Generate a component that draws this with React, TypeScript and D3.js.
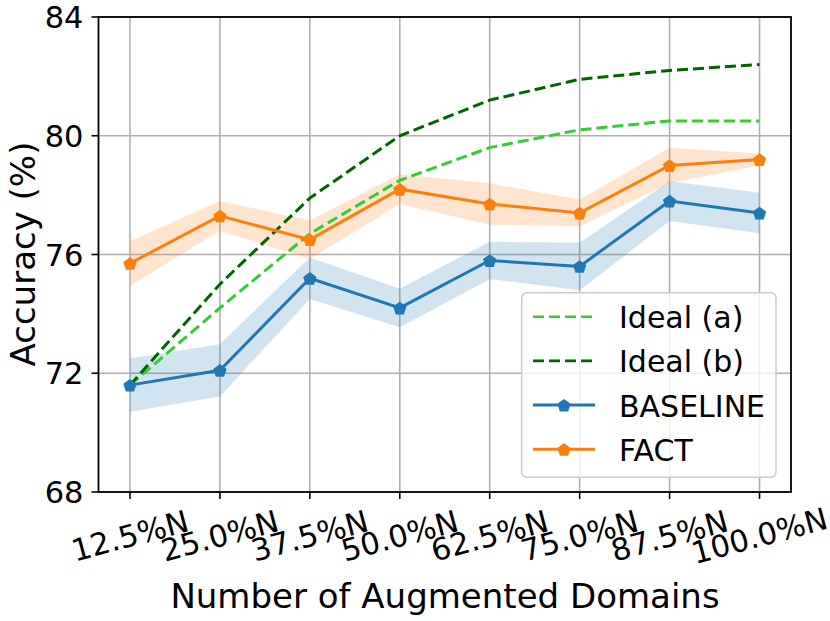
import React from 'react';
import * as d3 from 'd3';

const categories = ['12.5%N', '25.0%N', '37.5%N', '50.0%N', '62.5%N', '75.0%N', '87.5%N', '100.0%N'];
const idealA = [71.6, 74.2, 76.7, 78.5, 79.6, 80.2, 80.5, 80.5];
const idealB = [71.6, 75.0, 77.9, 80.0, 81.2, 81.9, 82.2, 82.4];
const baseline = [71.6, 72.1, 75.2, 74.2, 75.8, 75.6, 77.8, 77.4];
const baselineStd = [0.9, 0.88, 0.7, 0.65, 0.63, 0.8, 0.67, 0.68];
const fact = [75.7, 77.3, 76.5, 78.2, 77.7, 77.4, 79.0, 79.2];
const factStd = [0.75, 0.5, 0.65, 0.5, 0.7, 0.45, 0.6, 0.2];
const yTicks = [68, 72, 76, 80, 84];

const W = 830;
const H = 621;
const FONT = '"DejaVu Sans", sans-serif';

const BLUE = '#1f77b4';
const ORANGE = '#ff7f0e';
const LIME = '#32cd32';
const DARK = '#006400';

// pentagon marker, point up
const pentagon = (cx: number, cy: number, r: number) => {
  const pts = d3.range(5).map(k => {
    const a = (-90 + k * 72) * Math.PI / 180;
    return [cx + r * Math.cos(a), cy + r * Math.sin(a)];
  });
  return 'M' + pts.map(p => p.join(',')).join('L') + 'Z';
};

const App: React.FC = () => {
  const left = 98.5, right = 791, top = 17, bottom = 492;

  const x = d3.scalePoint<string>()
    .domain(categories)
    .range([left, right])
    .padding(0.35);

  const y = d3.scaleLinear().domain([68, 84]).range([bottom, top]);

  const line = d3.line<number>()
    .x((_, i) => x(categories[i]) as number)
    .y(d => y(d));

  const band = (vals: number[], std: number[]) =>
    d3.area<number>()
      .x((_, i) => x(categories[i]) as number)
      .y0((d, i) => y(d - std[i]))
      .y1((d, i) => y(d + std[i]))(vals) || '';

  const legendItems = [
    { label: 'Ideal (a)', color: LIME, dashed: true },
    { label: 'Ideal (b)', color: DARK, dashed: true },
    { label: 'BASELINE', color: BLUE, dashed: false },
    { label: 'FACT', color: ORANGE, dashed: false },
  ];

  return (
    <svg width={W} height={H} style={{ position: 'absolute', left: 0, top: 0, background: '#fff' }}
      fontFamily={FONT}>
      {/* grid */}
      <g stroke="#b0b0b0" strokeWidth={1.6}>
        {categories.map(c => (
          <line key={c} x1={x(c)} x2={x(c)} y1={top} y2={bottom} />
        ))}
        {yTicks.map(t => (
          <line key={t} x1={left} x2={right} y1={y(t)} y2={y(t)} />
        ))}
      </g>

      {/* std bands */}
      <path d={band(baseline, baselineStd)} fill={BLUE} fillOpacity={0.2} />
      <path d={band(fact, factStd)} fill={ORANGE} fillOpacity={0.2} />

      {/* ideal curves */}
      <path d={line(idealA) || ''} fill="none" stroke={LIME} strokeWidth={3} strokeDasharray="11 5" />
      <path d={line(idealB) || ''} fill="none" stroke={DARK} strokeWidth={3} strokeDasharray="11 5" />

      {/* measured curves */}
      {[{ vals: baseline, color: BLUE }, { vals: fact, color: ORANGE }].map(s => (
        <g key={s.color}>
          <path d={line(s.vals) || ''} fill="none" stroke={s.color} strokeWidth={3} />
          {s.vals.map((v, i) => (
            <path key={i} d={pentagon(x(categories[i]) as number, y(v) + 0.8, 7)} fill={s.color} />
          ))}
        </g>
      ))}

      {/* frame */}
      <rect x={left} y={top} width={right - left} height={bottom - top} fill="none" stroke="#000" strokeWidth={1.8} />

      {/* y axis */}
      {yTicks.map(t => (
        <g key={t}>
          <line x1={left - 7} x2={left} y1={y(t)} y2={y(t)} stroke="#000" strokeWidth={1.6} />
          <text x={left - 15} y={y(t) + 11} textAnchor="end" fontSize={30.5} fill="#000">{t}</text>
        </g>
      ))}

      {/* x axis */}
      {categories.map(c => (
        <g key={c}>
          <line x1={x(c)} x2={x(c)} y1={bottom} y2={bottom + 7} stroke="#000" strokeWidth={1.6} />
          <text transform={`translate(${x(c)},${536}) rotate(-15)`} textAnchor="middle"
            dominantBaseline="central" fontSize={30.5} fill="#000">{c}</text>
        </g>
      ))}

      <text x={445} y={608} textAnchor="middle" fontSize={34} fill="#000">Number of Augmented Domains</text>
      <text transform={`translate(23,${254}) rotate(-90)`} textAnchor="middle" dominantBaseline="central"
        fontSize={34} fill="#000">Accuracy (%)</text>

      {/* legend */}
      <g>
        <rect x={521.7} y={292.7} width={254.3} height={184.6} rx={5} fill="#fff" fillOpacity={0.8}
          stroke="#cccccc" strokeWidth={1.5} />
        {legendItems.map((it, i) => {
          const ry = 316.7 + i * 44.2;
          return (
            <g key={it.label}>
              <line x1={533} x2={595} y1={ry} y2={ry} stroke={it.color}
                strokeWidth={it.dashed ? 2.6 : 3} strokeDasharray={it.dashed ? '11 5' : undefined} />
              {!it.dashed && <path d={pentagon(564, ry + 0.8, 7)} fill={it.color} />}
              <text x={619} y={ry + 11.5} fontSize={30} fill="#000">{it.label}</text>
            </g>
          );
        })}
      </g>
    </svg>
  );
};

export default App;
